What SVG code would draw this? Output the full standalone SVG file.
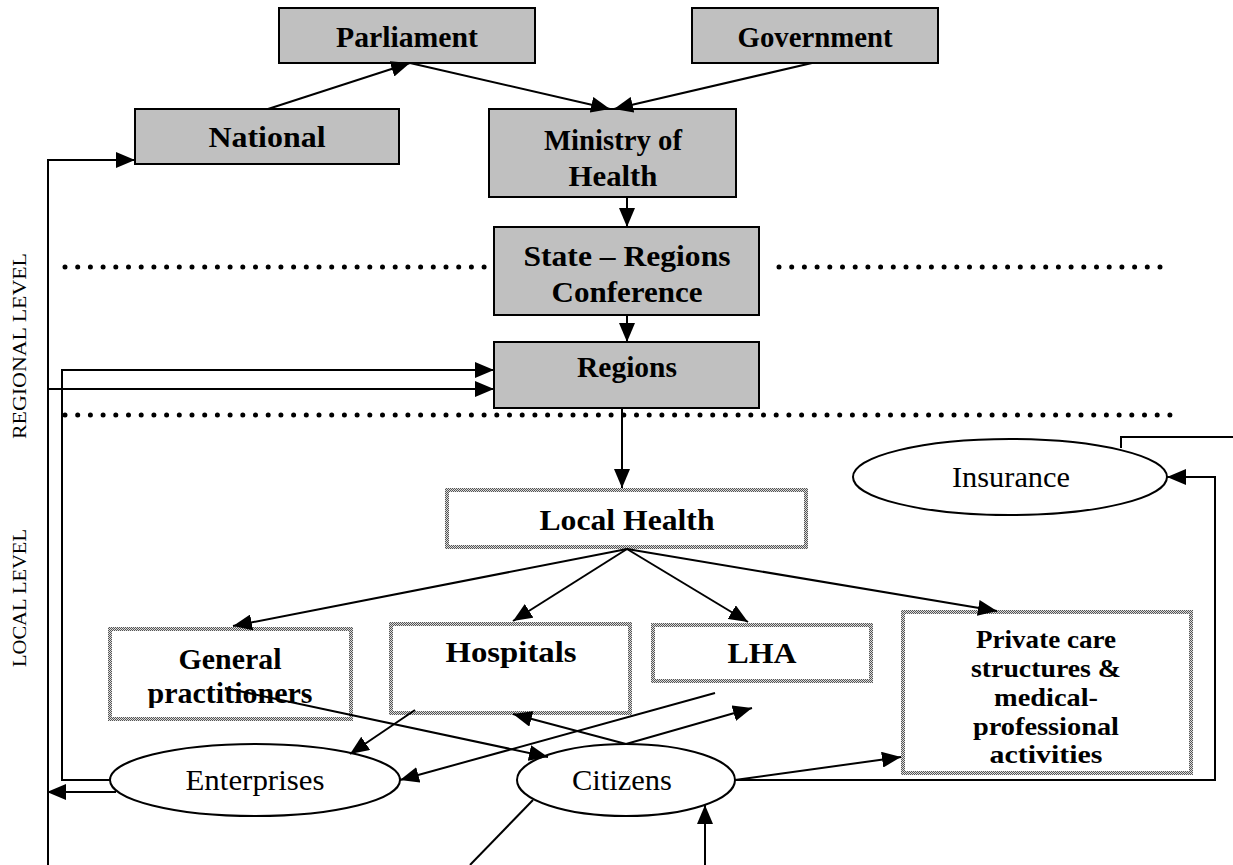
<svg xmlns="http://www.w3.org/2000/svg" width="1233" height="865" viewBox="0 0 1233 865">
<style>
.g{fill:#c0c0c0;stroke:#000;stroke-width:2}
.h{fill:#fff;stroke:url(#chk);stroke-width:4}
.e{fill:#fff;stroke:#000;stroke-width:2}
.b{font-family:"Liberation Serif",serif;font-weight:bold;font-size:29px;fill:#000;text-anchor:middle}
.p{font-family:"Liberation Serif",serif;font-weight:bold;font-size:26px;fill:#000;text-anchor:middle}
.r{font-family:"Liberation Serif",serif;font-size:29px;fill:#000;text-anchor:middle}
.v{font-family:"Liberation Serif",serif;font-size:19px;fill:#000;text-anchor:middle}
.c{fill:none;stroke:#000;stroke-width:2}
.ca{fill:none;stroke:#000;stroke-width:2;marker-end:url(#ah)}
.dot{fill:none;stroke:#000;stroke-width:5;stroke-linecap:round;stroke-dasharray:0 12.7}
</style>
<defs>
<pattern id="chk" width="2" height="2" patternUnits="userSpaceOnUse">
<rect width="2" height="2" fill="#dcdcdc"/>
<rect width="1" height="1" fill="#555"/>
<rect x="1" y="1" width="1" height="1" fill="#555"/>
</pattern>
<marker id="ah" markerUnits="userSpaceOnUse" markerWidth="20" markerHeight="16" refX="19" refY="8" orient="auto">
<path d="M0,0 L19,8 L0,16 z" fill="#000"/>
</marker>
<clipPath id="gpclip"><rect x="108" y="627" width="245" height="81"/></clipPath>
</defs>

<g id="levels">
<text class="v" transform="translate(26,346) rotate(-90)" textLength="186" lengthAdjust="spacingAndGlyphs">REGIONAL LEVEL</text>
<text class="v" transform="translate(26,598) rotate(-90)" textLength="138" lengthAdjust="spacingAndGlyphs">LOCAL LEVEL</text>
</g>

<g id="separators">
<line class="dot" x1="65" y1="267" x2="490" y2="267"/>
<line class="dot" x1="779" y1="267" x2="1170" y2="267"/>
<line class="dot" x1="65" y1="415" x2="1170" y2="415"/>
</g>

<g id="parliament"><rect class="g" x="279" y="8" width="256" height="55"/><text class="b" x="407" y="47" textLength="142" lengthAdjust="spacingAndGlyphs">Parliament</text></g>
<g id="government"><rect class="g" x="692" y="8" width="246" height="55"/><text class="b" x="815" y="47" textLength="155" lengthAdjust="spacingAndGlyphs">Government</text></g>
<g id="national"><rect class="g" x="135" y="109" width="264" height="55"/><text class="b" x="267" y="147" textLength="117" lengthAdjust="spacingAndGlyphs">National</text></g>
<g id="ministry"><rect class="g" x="489" y="109" width="247" height="88"/><text class="b" x="613" y="150" textLength="138" lengthAdjust="spacingAndGlyphs">Ministry of</text><text class="b" x="613" y="186" textLength="89" lengthAdjust="spacingAndGlyphs">Health</text></g>
<g id="conference"><rect class="g" x="494" y="227" width="265" height="88"/><text class="b" x="627" y="266" textLength="207" lengthAdjust="spacingAndGlyphs">State – Regions</text><text class="b" x="627" y="302" textLength="151" lengthAdjust="spacingAndGlyphs">Conference</text></g>
<g id="regions"><rect class="g" x="494" y="342" width="265" height="66"/><text class="b" x="627" y="377" textLength="100" lengthAdjust="spacingAndGlyphs">Regions</text></g>

<g id="localhealth"><rect class="h" x="447" y="490" width="359" height="57"/><text class="b" x="627" y="530" textLength="175" lengthAdjust="spacingAndGlyphs">Local Health</text></g>
<g id="gp"><rect class="h" x="110" y="629" width="241" height="90"/><g clip-path="url(#gpclip)"><text class="b" x="230" y="669" textLength="103" lengthAdjust="spacingAndGlyphs">General</text><text class="b" x="230" y="703" textLength="165" lengthAdjust="spacingAndGlyphs">practitioners</text></g></g>
<g id="hospitals"><rect class="h" x="391" y="624" width="239" height="89"/><text class="b" x="511" y="662" textLength="131" lengthAdjust="spacingAndGlyphs">Hospitals</text></g>
<g id="lha"><rect class="h" x="653" y="625" width="218" height="56"/><text class="b" x="762" y="663" textLength="69" lengthAdjust="spacingAndGlyphs">LHA</text></g>
<g id="private"><rect class="h" x="903" y="612" width="288" height="161"/>
<text class="p" x="1046" y="648" textLength="140" lengthAdjust="spacingAndGlyphs">Private care</text>
<text class="p" x="1046" y="677" textLength="150" lengthAdjust="spacingAndGlyphs">structures &amp;</text>
<text class="p" x="1046" y="706" textLength="104" lengthAdjust="spacingAndGlyphs">medical-</text>
<text class="p" x="1046" y="735" textLength="146" lengthAdjust="spacingAndGlyphs">professional</text>
<text class="p" x="1046" y="763" textLength="113" lengthAdjust="spacingAndGlyphs">activities</text></g>
<g id="insurance"><ellipse class="e" cx="1010" cy="477" rx="157" ry="38"/><text class="r" x="1011" y="487" textLength="118" lengthAdjust="spacingAndGlyphs">Insurance</text></g>
<g id="enterprises"><ellipse class="e" cx="255" cy="780" rx="145" ry="36"/><text class="r" x="255" y="790" textLength="139" lengthAdjust="spacingAndGlyphs">Enterprises</text></g>
<g id="citizens"><ellipse class="e" cx="626" cy="780" rx="109" ry="36"/><text class="r" x="622" y="790" textLength="100" lengthAdjust="spacingAndGlyphs">Citizens</text></g>

<g id="connectors">
<line class="ca" x1="268" y1="109" x2="410" y2="63"/>
<line class="ca" x1="410" y1="63" x2="610" y2="109"/>
<line class="ca" x1="812" y1="63" x2="614" y2="109"/>
<line class="ca" x1="627" y1="197" x2="627" y2="227"/>
<line class="ca" x1="627" y1="315" x2="627" y2="342"/>
<line class="ca" x1="622" y1="408" x2="622" y2="488"/>
<line class="ca" x1="627" y1="549" x2="233" y2="626"/>
<line class="ca" x1="627" y1="549" x2="513" y2="621"/>
<line class="ca" x1="627" y1="549" x2="748" y2="622"/>
<line class="ca" x1="627" y1="549" x2="997" y2="611"/>
<path class="c" d="M48,865 V389"/>
<path class="ca" d="M48,389 V160 H135"/>
<path class="ca" d="M48,389 H494"/>
<path class="ca" d="M110,780 H62 V370 H494"/>
<line class="ca" x1="116" y1="792" x2="47" y2="792"/>
<line class="ca" x1="415" y1="710" x2="350" y2="754"/>
<line class="ca" x1="225" y1="688" x2="548" y2="757"/>
<line class="ca" x1="715" y1="693" x2="400" y2="780"/>
<line class="ca" x1="626" y1="744" x2="513" y2="714"/>
<line class="ca" x1="626" y1="744" x2="752" y2="708"/>
<line class="ca" x1="735" y1="780" x2="901" y2="757"/>
<path class="ca" d="M735,780 H1215 V477 H1167"/>
<path class="c" d="M1121,448 V437 H1233"/>
<line class="c" x1="533" y1="800" x2="470" y2="865"/>
<line class="ca" x1="705" y1="865" x2="705" y2="805"/>
</g>
</svg>
